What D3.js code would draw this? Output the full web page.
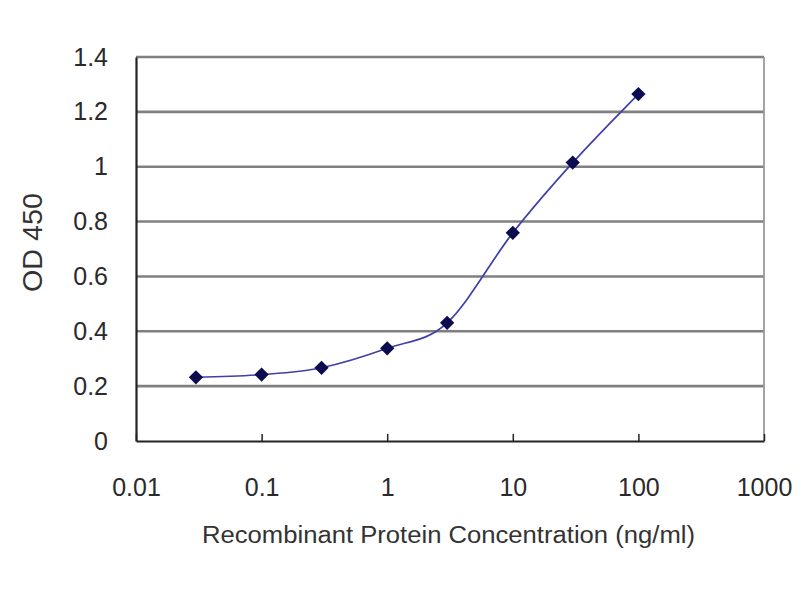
<!DOCTYPE html>
<html><head><meta charset="utf-8">
<script src="https://cdn.jsdelivr.net/npm/d3@7"></script>
<style>body{margin:0;background:#fff}svg{display:block}</style>
</head><body>
<svg id="c" width="800" height="600"></svg>
<script>
const concentrations = [0.03, 0.1, 0.3, 1, 3, 10, 30, 100];
const od450 = [0.232, 0.242, 0.267, 0.338, 0.431, 0.759, 1.015, 1.265];
const xTicks = [0.01, 0.1, 1, 10, 100, 1000];
const xTickLabels = ["0.01", "0.1", "1", "10", "100", "1000"];
const yTicks = [0, 0.2, 0.4, 0.6, 0.8, 1, 1.2, 1.4];
const yTickLabels = ["0", "0.2", "0.4", "0.6", "0.8", "1", "1.2", "1.4"];

const svg = d3.select("#c");
const L = 136, R = 764, T = 57, B = 441;
const x = d3.scaleLog().domain([0.01, 1000]).range([L, R]);
const y = d3.scaleLinear().domain([0, 1.4]).range([B, T]);
const font = "'Liberation Sans', Arial, sans-serif";

// gridlines
svg.append("g").selectAll("line").data(yTicks.filter(d => d > 0)).join("line")
  .attr("x1", L).attr("x2", R).attr("y1", d => y(d)).attr("y2", d => y(d))
  .attr("stroke", "#808080").attr("stroke-width", 2.6);
// right border
svg.append("line").attr("x1", R).attr("x2", R).attr("y1", T).attr("y2", B)
  .attr("stroke", "#9a9a9a").attr("stroke-width", 1.8);

// axes
const xAxis = d3.axisBottom(x).tickValues(xTicks).tickFormat((d, i) => xTickLabels[i])
  .tickSizeInner(-7).tickSizeOuter(0).tickPadding(37);
const gx = svg.append("g").attr("transform", `translate(0,${B})`).call(xAxis);
gx.select(".domain").attr("stroke", "#222").attr("stroke-width", 2.2);
gx.selectAll(".tick line").attr("stroke", "#222").attr("stroke-width", 1.5);
gx.selectAll("text").attr("font-family", font).attr("font-size", 25).attr("fill", "#2a2a2a");

const yAxis = d3.axisLeft(y).tickValues(yTicks).tickFormat((d, i) => yTickLabels[i])
  .tickSizeInner(0).tickSizeOuter(0).tickPadding(28);
const gy = svg.append("g").attr("transform", `translate(${L},0)`).call(yAxis);
gy.select(".domain").attr("stroke", "#222").attr("stroke-width", 2.2);
gy.selectAll("text").attr("font-family", font).attr("font-size", 25).attr("fill", "#2a2a2a");

// line
const pts = concentrations.map((c, i) => [x(c), y(od450[i])]);
svg.append("path").datum(pts)
  .attr("d", d3.line().curve(d3.curveCatmullRom.alpha(0)))
  .attr("fill", "none").attr("stroke", "#4040a8").attr("stroke-width", 1.7);

// markers
svg.append("g").selectAll("path").data(pts).join("path")
  .attr("transform", d => `translate(${d[0]},${d[1]})`)
  .attr("d", d3.symbol(d3.symbolDiamond2, 130)())
  .attr("fill", "#0b0b50");

// axis titles
svg.append("text").attr("x", 202).attr("y", 543)
  .attr("font-family", font).attr("font-size", 23).attr("fill", "#333")
  .attr("textLength", 493).attr("lengthAdjust", "spacingAndGlyphs")
  .text("Recombinant Protein Concentration (ng/ml)");
svg.append("text").attr("transform", "translate(42,292) rotate(-90)")
  .attr("font-family", font).attr("font-size", 27).attr("fill", "#333")
  .attr("textLength", 99).attr("lengthAdjust", "spacingAndGlyphs")
  .text("OD 450");
</script>
</body></html>
